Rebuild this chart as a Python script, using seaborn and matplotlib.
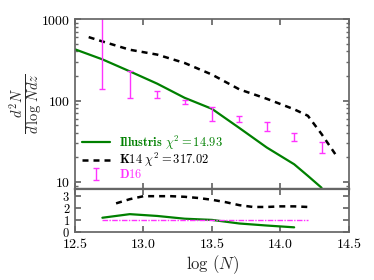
import numpy as np
import pandas as pd
import matplotlib
matplotlib.use("Agg")
import matplotlib.pyplot as plt
import seaborn as sns
from matplotlib.ticker import FixedLocator, FixedFormatter, LogLocator, NullFormatter, FuncFormatter

# ---- data ----
ill_x = [12.5, 12.7, 12.9, 13.1, 13.3, 13.5, 13.7, 13.9, 14.1, 14.2, 14.3]
ill_y = [425, 320, 228, 161, 108, 79, 46, 26.5, 16.5, 11.9, 8.5]

k14_x = [12.6, 12.7, 12.9, 13.1, 13.3, 13.5, 13.7, 13.9, 14.1, 14.2, 14.3, 14.4]
k14_y = [600, 531, 420, 366, 289, 208, 137, 105, 78, 65, 38.8, 22]

d16_x = [12.7, 12.9, 13.1, 13.3, 13.5, 13.7, 13.9, 14.1, 14.3]
d16_y = [600, 168, 119, 96.5, 69, 59.5, 48.3, 35.7, 26.8]
d16_err = [463, 60, 11, 5.5, 13.6, 4.5, 5.7, 4.2, 3.8]

ill_rx = [12.7, 12.9, 13.1, 13.3, 13.5, 13.7, 13.9, 14.1]
ill_r = [1.2, 1.5, 1.35, 1.12, 1.02, 0.72, 0.55, 0.4]

k14_rx = [12.8, 12.9, 13.0, 13.1, 13.2, 13.3, 13.4, 13.5, 13.6, 13.7, 13.8, 13.9, 14.0, 14.1, 14.2]
k14_r = [2.4, 2.75, 3.0, 3.0, 3.0, 2.95, 2.85, 2.7, 2.5, 2.25, 2.1, 2.1, 2.15, 2.15, 2.1]

d16_rx = [12.7, 14.2]
d16_r = [1.0, 1.0]

ill_label = r'$\mathbf{Illustris}\ \chi^2=14.93$'
k14_label = r'$\mathbf{K14}\ \chi^2=317.02$'
d16_label = r'$\mathbf{D16}$'

xticks = [12.5, 13.0, 13.5, 14.0, 14.5]
yticks_main = [10, 100, 1000]
yticks_ratio = [0, 1, 2, 3]

# ---- style ----
sns.set_theme(style="ticks")
plt.rcParams['font.family'] = ['DejaVu Serif']
plt.rcParams['mathtext.fontset'] = 'cm'
spine_col = '#666666'
plt.rcParams.update({
    'axes.edgecolor': spine_col,
    'xtick.color': spine_col,
    'ytick.color': spine_col,
    'xtick.labelcolor': 'black',
    'ytick.labelcolor': 'black',
    'xtick.direction': 'in',
    'ytick.direction': 'in',
})

GREEN = '#008000'
MAG = '#ff33ff'
DASH = (0, (2.4, 2.0))

fig = plt.figure(figsize=(3.74, 2.8), dpi=100)
ax = fig.add_axes([0.2005, 0.325, 0.7325, 0.607])
axr = fig.add_axes([0.2005, 0.171, 0.7325, 0.154], sharex=ax)

df_ill = pd.DataFrame({'x': ill_x, 'y': ill_y})
df_k14 = pd.DataFrame({'x': k14_x, 'y': k14_y})
sns.lineplot(data=df_ill, x='x', y='y', ax=ax, color=GREEN, lw=1.6, label=ill_label, sort=False)
sns.lineplot(data=df_k14, x='x', y='y', ax=ax, color='black', lw=1.8, label=k14_label, sort=False)
ax.lines[-1].set_linestyle(DASH)
ax.errorbar(d16_x, d16_y, yerr=d16_err, fmt='none', ecolor=MAG, elinewidth=1.0,
            capsize=2.5, capthick=1.0, label=d16_label)

ax.set_yscale('log')
ax.set_ylim(8.2, 1000)
ax.set_xlim(12.5, 14.5)
ax.yaxis.set_major_locator(FixedLocator(yticks_main))
ax.yaxis.set_major_formatter(FixedFormatter([r'$%d$' % v for v in yticks_main]))
ax.yaxis.set_minor_locator(LogLocator(base=10, subs=np.arange(2, 10)))
ax.yaxis.set_minor_formatter(NullFormatter())
ax.tick_params(axis='both', which='both', top=True, right=True, labelbottom=False, labelsize=10)
ax.tick_params(which='major', length=4)
ax.tick_params(which='minor', length=2)
ax.set_xlabel('')
ax.set_ylabel(r'$\frac{d^2N}{d\,\log\,N dz}$', fontsize=15)
ax.yaxis.set_label_coords(-0.105, 0.5)

handles, labels = ax.get_legend_handles_labels()
leg = ax.legend(handles, labels, loc='lower left', frameon=False, fontsize=9,
                handlelength=2.2, borderaxespad=0.2, labelspacing=-0.05, handletextpad=0.7,
                bbox_to_anchor=(0.0, 0.0))
for txt, col in zip(leg.get_texts(), [GREEN, 'black', MAG]):
    txt.set_color(col)

df_ir = pd.DataFrame({'x': ill_rx, 'y': ill_r})
df_kr = pd.DataFrame({'x': k14_rx, 'y': k14_r})
df_dr = pd.DataFrame({'x': d16_rx, 'y': d16_r})
sns.lineplot(data=df_ir, x='x', y='y', ax=axr, color=GREEN, lw=1.6, sort=False)
sns.lineplot(data=df_kr, x='x', y='y', ax=axr, color='black', lw=1.8, sort=False)
axr.lines[-1].set_linestyle(DASH)
sns.lineplot(data=df_dr, x='x', y='y', ax=axr, color=MAG, lw=1.0, sort=False)
axr.lines[-1].set_linestyle((0, (4, 1, 1, 1)))

axr.set_ylim(0, 3.6)
axr.set_xlim(12.5, 14.5)
axr.xaxis.set_major_locator(FixedLocator(xticks))
axr.xaxis.set_major_formatter(FuncFormatter(lambda v, p: r'$%.1f$' % v))
axr.yaxis.set_major_locator(FixedLocator(yticks_ratio))
axr.yaxis.set_major_formatter(FixedFormatter([r'$%d$' % v for v in yticks_ratio]))
axr.tick_params(axis='both', which='both', top=True, right=True, labelsize=10, length=4)
axr.tick_params(axis='y', labelsize=9)
axr.set_ylabel('')
axr.set_xlabel(r'$\log\,(N)$', fontsize=12, labelpad=2)
axr.spines['top'].set_linewidth(1.6)
ax.spines['bottom'].set_linewidth(1.6)

fig.savefig('out.png', dpi=100)
